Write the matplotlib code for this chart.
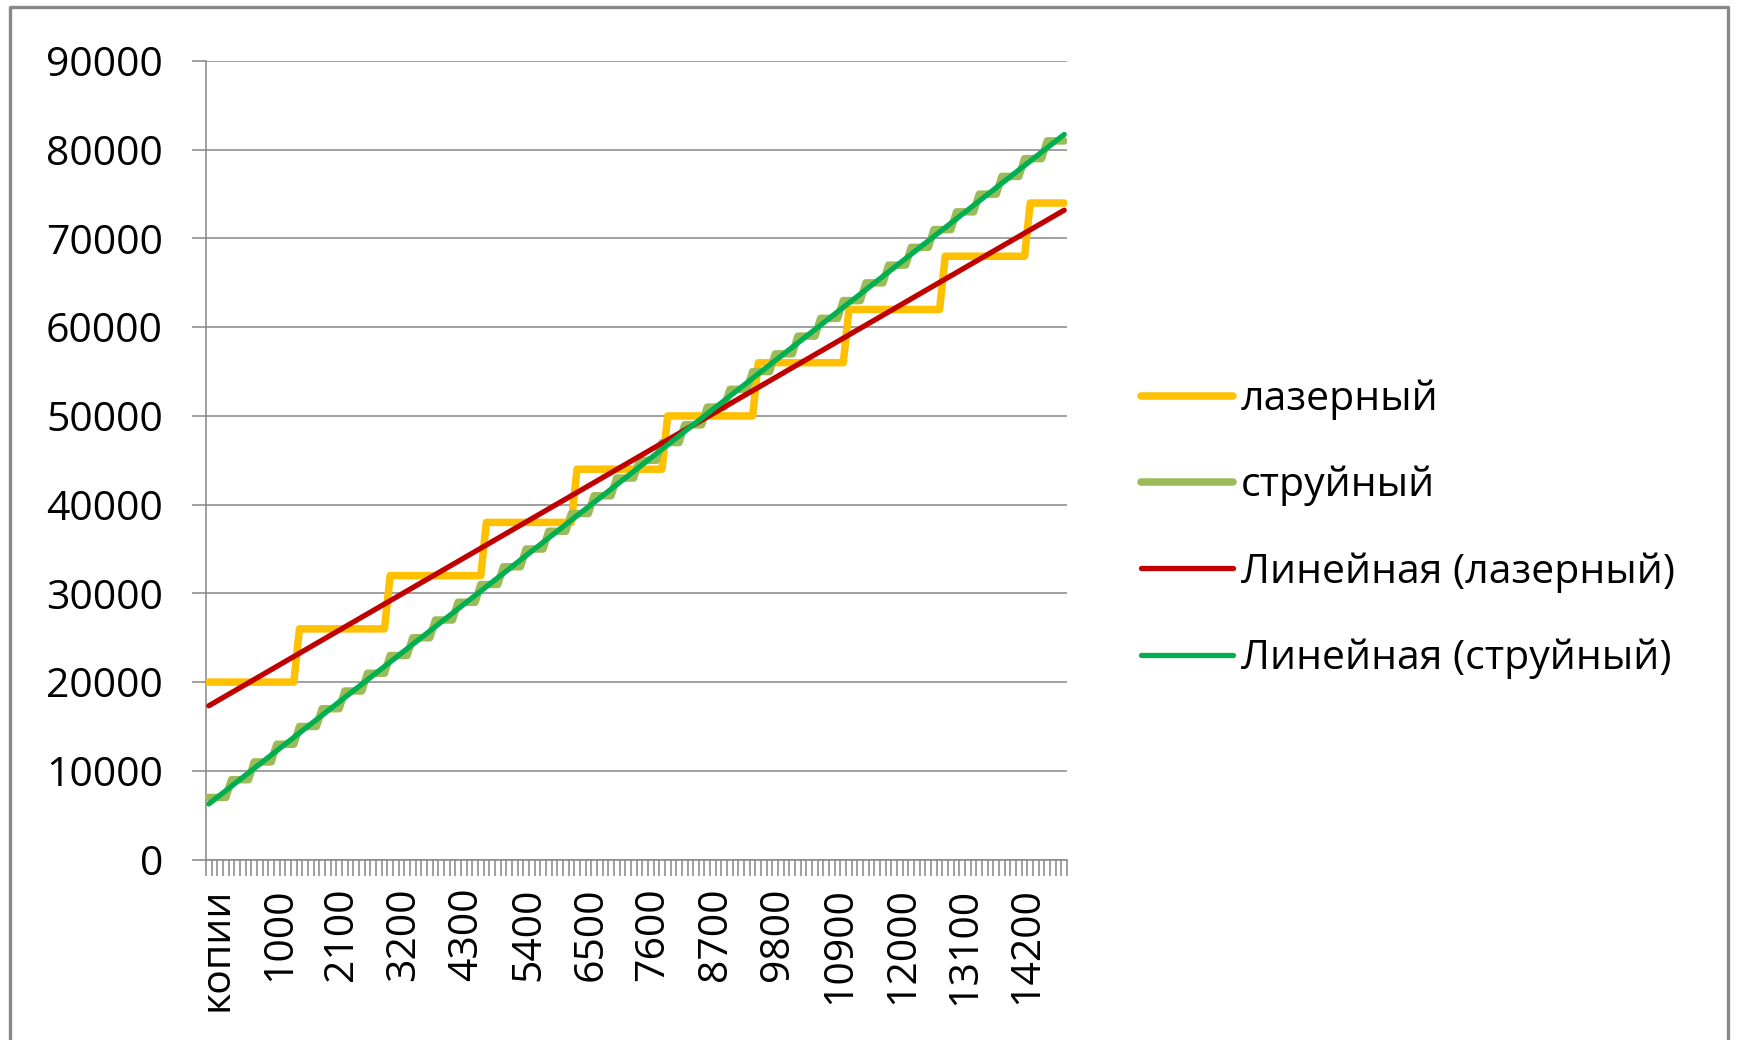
import numpy as np
import matplotlib.pyplot as plt
from matplotlib.lines import Line2D
from matplotlib.transforms import ScaledTranslation

plt.rcParams['font.family'] = ['Open Sans', 'DejaVu Sans']

# категории по оси X: заголовок "копии" и число копий от 0 до 15000 шагом 100
categories = ['копии'] + [str(n) for n in range(0, 15100, 100)]

# стоимость для лазерного принтера (ступени по картриджам)
laser = [
    20000, 20000, 20000, 20000, 20000, 20000, 20000, 20000, 20000, 20000, 20000, 20000, 20000, 20000, 20000, 20000,
    26000, 26000, 26000, 26000, 26000, 26000, 26000, 26000, 26000, 26000, 26000, 26000, 26000, 26000, 26000, 26000,
    32000, 32000, 32000, 32000, 32000, 32000, 32000, 32000, 32000, 32000, 32000, 32000, 32000, 32000, 32000, 32000, 32000,
    38000, 38000, 38000, 38000, 38000, 38000, 38000, 38000, 38000, 38000, 38000, 38000, 38000, 38000, 38000, 38000,
    44000, 44000, 44000, 44000, 44000, 44000, 44000, 44000, 44000, 44000, 44000, 44000, 44000, 44000, 44000, 44000,
    50000, 50000, 50000, 50000, 50000, 50000, 50000, 50000, 50000, 50000, 50000, 50000, 50000, 50000, 50000, 50000,
    56000, 56000, 56000, 56000, 56000, 56000, 56000, 56000, 56000, 56000, 56000, 56000, 56000, 56000, 56000, 56000,
    62000, 62000, 62000, 62000, 62000, 62000, 62000, 62000, 62000, 62000, 62000, 62000, 62000, 62000, 62000, 62000, 62000,
    68000, 68000, 68000, 68000, 68000, 68000, 68000, 68000, 68000, 68000, 68000, 68000, 68000, 68000, 68000,
    74000, 74000, 74000, 74000, 74000, 74000, 74000,
]

# стоимость для струйного принтера
inkjet = [
    7000, 7000, 7000, 7000, 9000, 9000, 9000, 9000, 11000, 11000, 11000, 11000, 13000, 13000, 13000, 13000,
    15000, 15000, 15000, 15000, 17000, 17000, 17000, 17000, 19000, 19000, 19000, 19000, 21000, 21000, 21000, 21000,
    23000, 23000, 23000, 23000, 25000, 25000, 25000, 25000, 27000, 27000, 27000, 27000, 29000, 29000, 29000, 29000,
    31000, 31000, 31000, 31000, 33000, 33000, 33000, 33000, 35000, 35000, 35000, 35000, 37000, 37000, 37000, 37000,
    39000, 39000, 39000, 39000, 41000, 41000, 41000, 41000, 43000, 43000, 43000, 43000, 45000, 45000, 45000, 45000,
    47000, 47000, 47000, 47000, 49000, 49000, 49000, 49000, 51000, 51000, 51000, 51000, 53000, 53000, 53000, 53000,
    55000, 55000, 55000, 55000, 57000, 57000, 57000, 57000, 59000, 59000, 59000, 59000, 61000, 61000, 61000, 61000,
    63000, 63000, 63000, 63000, 65000, 65000, 65000, 65000, 67000, 67000, 67000, 67000, 69000, 69000, 69000, 69000,
    71000, 71000, 71000, 71000, 73000, 73000, 73000, 73000, 75000, 75000, 75000, 75000, 77000, 77000, 77000, 77000,
    79000, 79000, 79000, 79000, 81000, 81000, 81000, 81000,
]

y_ticks = [0, 10000, 20000, 30000, 40000, 50000, 60000, 70000, 80000, 90000]
label_step = 11

GRID = '#868686'
FS = 29.5


def linear_trend(values):
    """Линейный тренд как в Excel (x = 1..n)."""
    x = np.arange(1, len(values) + 1)
    k, b = np.polyfit(x, values, 1)
    return k * x + b


def plot_chart():
    fig = plt.figure(figsize=(17.37, 10.4), dpi=100)
    ax = fig.add_axes([0.1186, 0.1735, 0.4957, 0.7678])

    x = np.arange(len(categories))
    ax.plot(x, laser, color='#FFC000', lw=5.4, solid_capstyle='round',
            solid_joinstyle='round', label='лазерный', zorder=3)
    ax.plot(x, inkjet, color='#9BBB59', lw=5.4, solid_capstyle='round',
            solid_joinstyle='round', label='струйный', zorder=4)
    ax.plot(x, linear_trend(laser), color='#C00000', lw=3.8,
            solid_capstyle='round', label='Линейная (лазерный)', zorder=5)
    ax.plot(x, linear_trend(inkjet), color='#00B050', lw=3.8,
            solid_capstyle='round', label='Линейная (струйный)', zorder=6)

    ax.set_xlim(-0.5, len(categories) - 0.5)
    ax.set_ylim(0, 90000)

    # сетка и оси в стиле Excel
    for s in ['top', 'right']:
        ax.spines[s].set_visible(False)
    for s in ['left', 'bottom']:
        ax.spines[s].set_color(GRID)
        ax.spines[s].set_linewidth(1.1)
    ax.yaxis.grid(True, color=GRID, lw=1.1)
    ax.set_axisbelow(True)

    ax.set_yticks(y_ticks)
    ax.set_yticklabels([str(v) for v in y_ticks])
    ax.tick_params(axis='y', length=10, width=1.1, color=GRID, pad=21,
                   labelsize=FS, labelcolor='black')

    idx = list(range(0, len(categories), label_step))
    ax.set_xticks(idx)
    ax.set_xticklabels([categories[i] for i in idx], rotation=90)
    ax.set_xticks(np.arange(-0.5, len(categories)), minor=True)
    ax.tick_params(axis='x', which='major', length=0, pad=20,
                   labelsize=FS, labelcolor='black')
    ax.tick_params(axis='x', which='minor', length=11.5, width=1.1, color=GRID)
    shift = ScaledTranslation(6 / 72, 0, fig.dpi_scale_trans)
    for lab in ax.get_xticklabels():
        lab.set_transform(lab.get_transform() + shift)

    fig.legend(*ax.get_legend_handles_labels(), loc='center left',
               bbox_to_anchor=(0.657, 0.491), frameon=False,
               borderpad=0, borderaxespad=0, fontsize=FS,
               handlelength=2.24, handletextpad=0.2, labelspacing=1.12)

    # рамка вокруг диаграммы
    W, H = 1737, 1040
    xs = [10 / W, 10 / W, 1728 / W, 1728 / W]
    ys = [-0.01, 1 - 7 / H, 1 - 7 / H, -0.01]
    fig.add_artist(Line2D(xs, ys, color='#888888', lw=2.4,
                          transform=fig.transFigure))

    fig.savefig('out.png', dpi=100)


if __name__ == "__main__":
    plot_chart()
